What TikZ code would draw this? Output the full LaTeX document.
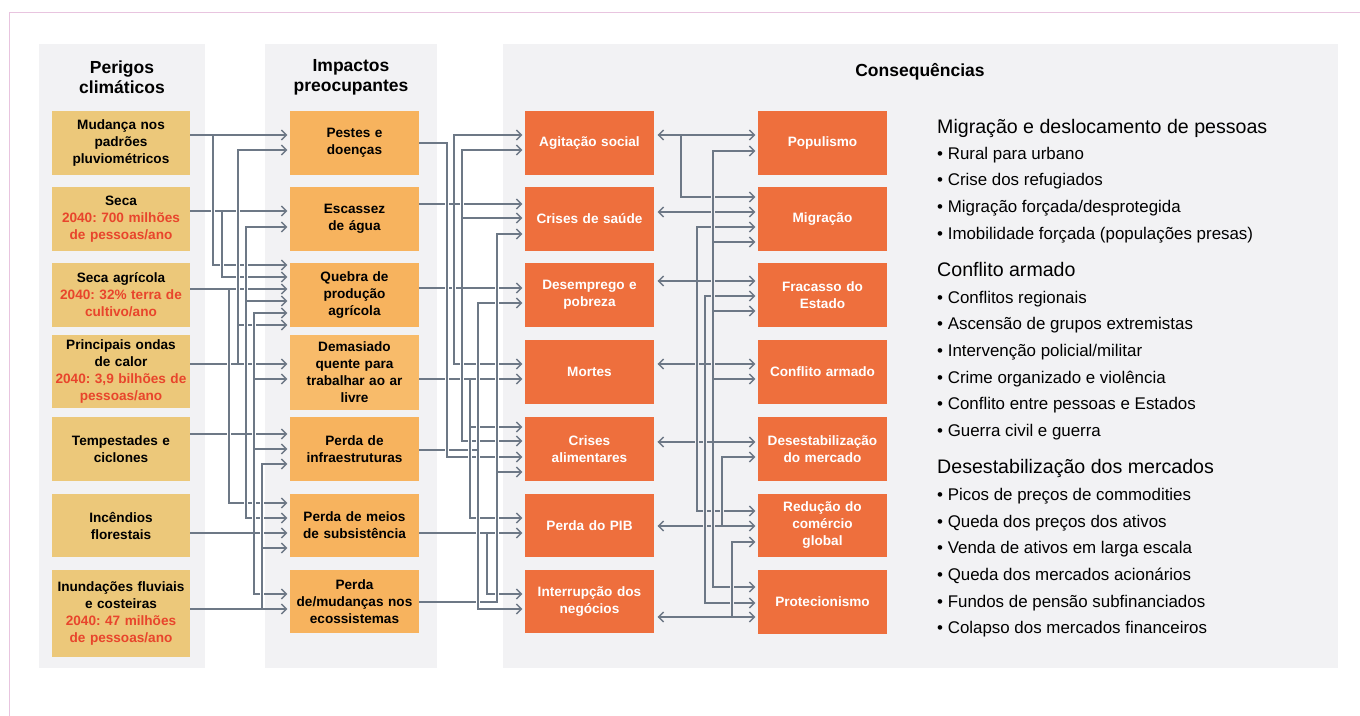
\documentclass[tikz,border=0pt]{standalone}
\usepackage{fontspec}
\setmainfont{Liberation Sans}
\usetikzlibrary{arrows.meta}
\frenchspacing
\definecolor{panelc}{HTML}{F2F2F4}
\definecolor{hzc}{HTML}{ECC87A}
\definecolor{imc}{HTML}{F7B35E}
\definecolor{imlc}{HTML}{F8BB6A}
\definecolor{cqc}{HTML}{EE6F3D}
\definecolor{lc}{HTML}{6D7886}
\definecolor{rdc}{HTML}{E8452C}
\definecolor{framec}{HTML}{E8C4DF}
\newcommand\bxf{\fontsize{13.6}{17}\selectfont\bfseries}
\newcommand\hdf{\fontsize{17.5}{20}\selectfont\bfseries}
\newcommand\rhf{\fontsize{19.6}{22}\selectfont}
\newcommand\rbf{\fontsize{16.9}{20}\selectfont}
\newcommand\rt[1]{\textcolor{rdc}{#1}}
% main horizontal connector: source, target, y, style
\newcommand\mn[4]{\draw[#4] (#1.east|-0,#3) -- (#2.west|-0,#3);}
% branch connector: source, y source, x vertical, target, y target, style
\newcommand\cn[6]{\draw[#6] (#1.east|-0,#2) -- (#3,#2) -- (#3,#5) -- (#4.west|-0,#5);}
% vertical segment with crossing gap: x, y1, y2, background colour
\newcommand\vseg[4]{\draw[#4,line width=4.5pt] (#1,#2+3) -- (#1,#3-3); \draw[draw=lc,line width=1.3pt] (#1,#2+1) -- (#1,#3-1);}
\begin{document}
\begin{tikzpicture}[x=1pt,y=-1pt,
  ln/.style={draw=lc,line width=1.3pt},
  arr/.style={ln,-{Straight Barb[length=5pt,width=10pt]},shorten >=2.5pt},
  arrc/.style={arr,shorten <=3.5pt},
  dar/.style={ln,{Straight Barb[length=5pt,width=10pt]}-{Straight Barb[length=5pt,width=10pt]},shorten >=2.5pt,shorten <=3.5pt},
  bx/.style={rectangle,inner sep=0pt,align=center,font=\bxf},
  hz/.style={bx,fill=hzc,minimum width=138pt,text width=136pt},
  im/.style={bx,fill=imc,minimum width=129pt,text width=127pt},
  cq/.style={bx,fill=cqc,minimum width=129pt,text width=127pt,text=white},
  hd/.style={align=center,font=\hdf,inner sep=0pt},
  rh/.style={anchor=base west,font=\rhf,inner sep=0pt},
  rb/.style={anchor=base west,font=\rbf,inner sep=0pt}]
\useasboundingbox (0,0) rectangle (1360,715);
\fill[white] (0,0) rectangle (1360,715);
\draw[framec,line width=1.2pt] (9.5,12.5) rectangle (1400,760);
% panels
\fill[panelc] (39,44) rectangle (205,668);
\fill[panelc] (265,44) rectangle (437,668);
\fill[panelc] (503,44) rectangle (1338,668);
% headers
\node[hd] (h1) at (122,77) {Perigos\\climáticos};
\node[hd] (h2) at (351,77) {Impactos\\preocupantes};
\node[hd] (h3) at (920,72) {Consequências};
% column 1
\node[hz,minimum height=64pt] (a1) at (121,143) {Mudança nos\\padrões\\pluviométricos};
\node[hz,minimum height=64pt] (a2) at (121,219) {Seca\\\rt{2040: 700 milhões}\\\rt{de pessoas/ano}};
\node[hz,minimum height=64pt] (a3) at (121,295) {Seca agrícola\\\rt{2040: 32\% terra de}\\\rt{cultivo/ano}};
\node[hz,minimum height=73pt] (a4) at (121,371.5) {Principais ondas\\de calor\\\rt{2040: 3,9 bilhões de}\\\rt{pessoas/ano}};
\node[hz,minimum height=64pt] (a5) at (121,449) {Tempestades e\\ciclones};
\node[hz,minimum height=63pt] (a6) at (121,525.5) {Incêndios\\florestais};
\node[hz,minimum height=87pt] (a7) at (121,613.5) {Inundações fluviais\\e costeiras\\\rt{2040: 47 milhões}\\\rt{de pessoas/ano}};
% column 2
\node[im,minimum height=64pt] (b1) at (354.5,143) {Pestes e\\doenças};
\node[im,minimum height=64pt] (b2) at (354.5,219) {Escassez\\de água};
\node[im,minimum height=64pt] (b3) at (354.5,295) {Quebra de\\produção\\agrícola};
\node[im,fill=imlc,minimum height=75pt] (b4) at (354.5,372.5) {Demasiado\\quente para\\trabalhar ao ar\\livre};
\node[im,minimum height=64pt] (b5) at (354.5,449) {Perda de\\infraestruturas};
\node[im,minimum height=63pt] (b6) at (354.5,525.5) {Perda de meios\\de subsistência};
\node[im,minimum height=63pt] (b7) at (354.5,601.5) {Perda\\de/mudanças nos\\ecossistemas};
% column 3
\node[cq,minimum height=64pt] (c1) at (589.5,143) {Agitação social};
\node[cq,minimum height=64pt] (c2) at (589.5,219) {Crises de saúde};
\node[cq,minimum height=64pt] (c3) at (589.5,295) {Desemprego e\\pobreza};
\node[cq,minimum height=64pt] (c4) at (589.5,372) {Mortes};
\node[cq,minimum height=64pt] (c5) at (589.5,449) {Crises\\alimentares};
\node[cq,minimum height=63pt] (c6) at (589.5,525.5) {Perda do PIB};
\node[cq,minimum height=63pt] (c7) at (589.5,601.5) {Interrupção dos\\negócios};
% column 4
\node[cq,minimum height=64pt] (d1) at (822.5,143) {Populismo};
\node[cq,minimum height=64pt] (d2) at (822.5,219) {Migração};
\node[cq,minimum height=64pt] (d3) at (822.5,295) {Fracasso do\\Estado};
\node[cq,minimum height=64pt] (d4) at (822.5,372) {Conflito armado};
\node[cq,minimum height=64pt] (d5) at (822.5,449) {Desestabilização\\do mercado};
\node[cq,minimum height=63pt] (d6) at (822.5,525.5) {Redução do\\comércio\\global};
\node[cq,minimum height=64pt] (d7) at (822.5,602) {Protecionismo};
% right-hand text
\node[rh] (m1) at (937,133) {Migração e deslocamento de pessoas};
\node[rb] (m2) at (937,159) {• Rural para urbano};
\node[rb] (m3) at (937,185) {• Crise dos refugiados};
\node[rb] (m4) at (937,212) {• Migração forçada/desprotegida};
\node[rb] (m5) at (937,239) {• Imobilidade forçada (populações presas)};
\node[rh] (k1) at (937,276) {Conflito armado};
\node[rb] (k2) at (937,303) {• Conflitos regionais};
\node[rb] (k3) at (937,329) {• Ascensão de grupos extremistas};
\node[rb] (k4) at (937,356) {• Intervenção policial/militar};
\node[rb] (k5) at (937,383) {• Crime organizado e violência};
\node[rb] (k6) at (937,409) {• Conflito entre pessoas e Estados};
\node[rb] (k7) at (937,436) {• Guerra civil e guerra};
\node[rh] (s1) at (937,473) {Desestabilização dos mercados};
\node[rb] (s2) at (937,500) {• Picos de preços de commodities};
\node[rb] (s3) at (937,527) {• Queda dos preços dos ativos};
\node[rb] (s4) at (937,553) {• Venda de ativos em larga escala};
\node[rb] (s5) at (937,580) {• Queda dos mercados acionários};
\node[rb] (s6) at (937,607) {• Fundos de pensão subfinanciados};
\node[rb] (s7) at (937,633) {• Colapso dos mercados financeiros};
% ---------- connectors: hazards -> impacts
\mn{a1}{b1}{135}{arr}
\mn{a2}{b2}{211}{arr}
\mn{a3}{b3}{289}{arr}
\mn{a4}{b4}{364}{arr}
\mn{a5}{b5}{434}{arr}
\mn{a6}{b6}{533}{arr}
\mn{a7}{b7}{609}{arr}
\cn{a1}{135}{213}{b3}{265}{arr}
\cn{a2}{211}{222}{b3}{277}{arr}
\cn{a3}{289}{229}{b6}{503}{arr}
\cn{a4}{364}{238}{b1}{150}{arr}
\cn{a4}{364}{238}{b3}{325}{arr}
\cn{a5}{434}{246}{b2}{227}{arr}
\cn{a5}{434}{246}{b3}{301}{arr}
\cn{a5}{434}{246}{b6}{518}{arr}
\cn{a6}{533}{254}{b3}{313}{arr}
\cn{a6}{533}{254}{b4}{379}{arr}
\cn{a6}{533}{254}{b5}{449}{arr}
\cn{a6}{533}{254}{b7}{594}{arr}
\cn{a7}{609}{262}{b5}{464}{arr}
\cn{a7}{609}{262}{b6}{548}{arr}
% ---------- impacts -> consequences
\mn{b2}{c2}{204}{arr}
\mn{b3}{c3}{288}{arr}
\mn{b4}{c4}{379}{arr}
\mn{b6}{c6}{533}{arr}
\cn{b1}{143}{447}{c5}{457}{arr}
\cn{b2}{204}{454}{c1}{135}{arr}
\cn{b2}{204}{454}{c4}{364}{arr}
\cn{b3}{288}{462}{c1}{150}{arr}
\cn{b3}{288}{462}{c2}{218}{arr}
\cn{b3}{288}{462}{c5}{441}{arr}
\cn{b4}{379}{470}{c5}{427}{arr}
\cn{b4}{379}{470}{c6}{518}{arr}
\cn{b5}{450}{478}{c3}{303}{arr}
\cn{b5}{450}{478}{c7}{609}{arr}
\cn{b6}{533}{487}{c7}{594}{arr}
\cn{b7}{602}{497}{c2}{234}{arr}
\cn{b7}{602}{497}{c5}{472}{arr}
% ---------- consequences -> consequences
\mn{c1}{d1}{135}{dar}
\mn{c2}{d2}{212}{dar}
\mn{c3}{d3}{281}{dar}
\mn{c4}{d4}{364}{dar}
\mn{c5}{d5}{442}{dar}
\mn{c6}{d6}{526}{dar}
\mn{c7}{d7}{617}{dar}
\cn{c1}{135}{681}{d2}{197}{arrc}
\cn{c3}{281}{697}{d2}{227}{arrc}
\cn{c3}{281}{697}{d6}{511}{arrc}
\cn{c4}{364}{705}{d3}{296}{arrc}
\cn{c4}{364}{705}{d7}{603}{arrc}
\cn{c5}{442}{713}{d1}{151}{arrc}
\cn{c5}{442}{713}{d2}{242}{arrc}
\cn{c5}{442}{713}{d3}{311}{arrc}
\cn{c5}{442}{713}{d4}{379}{arrc}
\cn{c5}{442}{713}{d7}{587}{arrc}
\cn{c6}{526}{722}{d5}{457}{arrc}
\cn{c7}{617}{732}{d6}{542}{arrc}
% ---------- crossing gaps
\vseg{213}{135}{265}{white}
\vseg{222}{211}{277}{white}
\vseg{229}{289}{503}{white}
\vseg{238}{150}{325}{white}\vseg{238}{325}{364}{white}
\vseg{246}{227}{301}{white}\vseg{246}{301}{434}{white}\vseg{246}{434}{518}{white}
\vseg{254}{313}{379}{white}\vseg{254}{379}{449}{white}\vseg{254}{449}{533}{white}\vseg{254}{533}{594}{white}
\vseg{262}{464}{548}{white}\vseg{262}{548}{609}{white}
\vseg{447}{143}{457}{white}
\vseg{454}{135}{204}{white}\vseg{454}{204}{364}{white}
\vseg{462}{150}{218}{white}\vseg{462}{218}{288}{white}\vseg{462}{288}{441}{white}
\vseg{470}{379}{427}{white}\vseg{470}{427}{518}{white}
\vseg{478}{303}{450}{white}\vseg{478}{450}{609}{white}
\vseg{487}{533}{594}{white}
\vseg{497}{234}{472}{white}\vseg{497}{472}{602}{white}
\vseg{681}{135}{197}{panelc}
\vseg{697}{227}{281}{panelc}\vseg{697}{281}{511}{panelc}
\vseg{705}{296}{364}{panelc}\vseg{705}{364}{603}{panelc}
\vseg{713}{151}{242}{panelc}\vseg{713}{242}{311}{panelc}\vseg{713}{311}{379}{panelc}\vseg{713}{379}{442}{panelc}\vseg{713}{442}{587}{panelc}
\vseg{722}{457}{526}{panelc}
\vseg{732}{542}{617}{panelc}
\end{tikzpicture}
\end{document}
